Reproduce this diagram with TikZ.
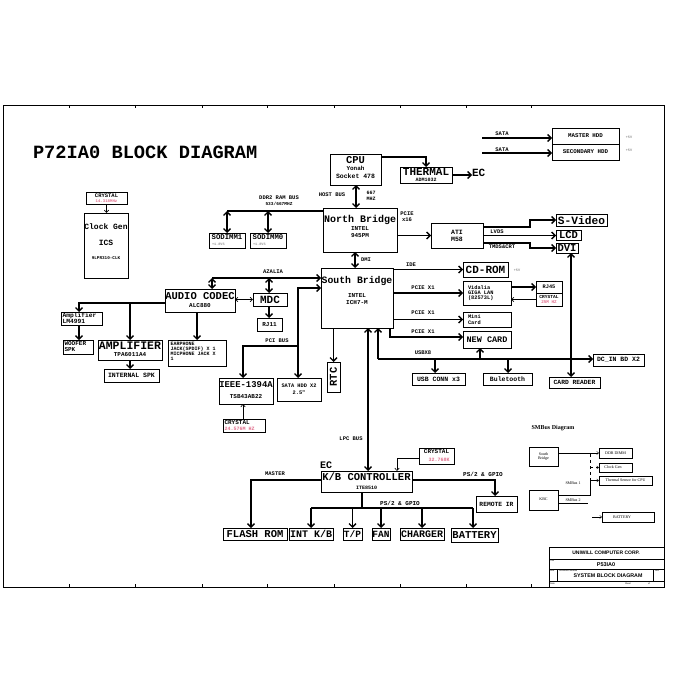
\documentclass[tikz,border=0pt]{standalone}
\usepackage{fontspec}
\setmainfont{Liberation Serif}
\setmonofont{Liberation Mono}
\newfontfamily\sansf{Liberation Sans}
\usetikzlibrary{arrows.meta}
\definecolor{pk}{RGB}{225,110,140}
\definecolor{gy}{RGB}{150,150,150}
\newcommand\mfs[1]{\ttfamily\bfseries\fontsize{#1}{#1}\selectfont}
\newcommand\sfs[1]{\sansf\bfseries\fontsize{#1}{#1}\selectfont}
\newcommand\rfs[1]{\rmfamily\fontsize{#1}{#1}\selectfont}
\tikzset{
  bx/.style={draw, line width=0.9pt, inner sep=0pt, outer sep=0pt},
  sbx/.style={draw, line width=0.4pt, inner sep=0pt, outer sep=0pt},
  tx/.style={inner sep=0pt, outer sep=0pt},
  busline/.style={line width=1.7pt},
  bus/.style={line width=1.7pt, -{Straight Barb[length=3.5pt,width=7pt,line width=1.3pt]}},
  dbus/.style={line width=1.7pt, {Straight Barb[length=3.5pt,width=7pt,line width=1.3pt]}-{Straight Barb[length=3.5pt,width=7pt,line width=1.3pt]}},
  thinar/.style={line width=0.6pt, -{Straight Barb[length=2.5pt,width=4.5pt]}},
  thindar/.style={line width=0.6pt, {Straight Barb[length=2.5pt,width=4.5pt]}-{Straight Barb[length=2.5pt,width=4.5pt]}},
  smar/.style={line width=0.4pt, -{Straight Barb[length=2pt,width=3pt]}},
}
\begin{document}
\begin{tikzpicture}[x=1pt,y=-1pt]
\useasboundingbox (0,0) rectangle (700,700);
\fill[white] (0,0) rectangle (700,700);
% frame
\draw[line width=0.7pt] (3,105) rectangle (664,587);
\foreach \x in {69,135,202,267,334,400,466,531}{
  \draw[line width=0.4pt] (\x,105) -- (\x,108);
  \draw[line width=0.4pt] (\x,587) -- (\x,584);}

\node[tx, font=\mfs{18.7}, anchor=west] (title) at (33,152) {P72IA0 BLOCK DIAGRAM};

% clock
\node[bx, minimum width=41, minimum height=12] (crys1) at (106.5,198) {};
\node[tx, font=\mfs{5.5}] (crys1a) at (106.5,195.3) {CRYSTAL};
\node[tx, font=\mfs{4}, text=pk] (crys1b) at (106.5,201) {14.318MHz};
\node[bx, minimum width=44, minimum height=65] (clk) at (106,245.5) {};
\node[tx, font=\mfs{8}] (clka) at (106,227) {Clock Gen};
\node[tx, font=\mfs{8}] (clkb) at (106,243) {ICS};
\node[tx, font=\mfs{4.3}] (clkc) at (106,258) {9LPR310-CLK};
\draw[thinar] (crys1.south) -- (crys1.south |- clk.north);

% CPU / thermal
\node[bx, minimum width=51, minimum height=31] (cpu) at (355.5,169.5) {};
\node[tx, font=\mfs{10.5}] (cpua) at (355.5,160) {CPU};
\node[tx, font=\mfs{6}] (cpub) at (355.5,168.5) {Yonah};
\node[tx, font=\mfs{6.5}] (cpuc) at (355.5,176.5) {Socket 478};
\node[bx, minimum width=52, minimum height=16] (therm) at (426,175) {};
\node[tx, font=\mfs{11}] (therma) at (426,172) {THERMAL};
\node[tx, font=\mfs{5}] (thermb) at (426,180) {ADM1032};
\node[tx, font=\mfs{11}, anchor=west] (ec1) at (472,173) {EC};
\coordinate (cpuR) at (381,157);
\draw[bus] (cpu.east |- cpuR) -| (therm.north);
\draw[bus] (therm.east) -- (therm.east -| ec1.west);

% North bridge
\node[bx, minimum width=74, minimum height=44] (nb) at (360,230) {};
\node[tx, font=\mfs{10}] (nba) at (360,219.5) {North Bridge};
\node[tx, font=\mfs{6}] (nbb) at (360,229) {INTEL};
\node[tx, font=\mfs{6}] (nbc) at (360,236) {945PM};
\coordinate (hostx) at (356,0);
\draw[dbus] (hostx |- cpu.south) -- (hostx |- nb.north);
\node[tx, font=\mfs{5.5}] (hb) at (332,195) {HOST BUS};
\node[tx, font=\mfs{5}] (hm1) at (371,192.5) {667};
\node[tx, font=\mfs{5}] (hm2) at (371,198.5) {MHZ};

% SODIMMs
\node[bx, minimum width=36, minimum height=15] (sodimm1) at (227,240.5) {};
\node[tx, font=\mfs{7.3}] (sd1a) at (227,237.5) {SODIMM1};
\node[tx, font=\mfs{3.5}, text=gy, anchor=west] (sd1b) at (212,244.5) {+1.8VS};
\node[bx, minimum width=36, minimum height=15] (sodimm0) at (268,240.5) {};
\node[tx, font=\mfs{7.3}] (sd0a) at (268,237.5) {SODIMM0};
\node[tx, font=\mfs{3.5}, text=gy, anchor=west] (sd0b) at (253,244.5) {+1.8VS};
\coordinate (ddrL) at (227,211);
\draw[busline] (nb.west |- ddrL) -- (ddrL);
\draw[dbus] (sodimm1.north |- ddrL) -- (sodimm1.north);
\draw[dbus] (sodimm0.north |- ddrL) -- (sodimm0.north);
\node[tx, font=\mfs{5.5}] (ddra) at (279,198) {DDR2 RAM BUS};
\node[tx, font=\mfs{4.5}] (ddrb) at (279,204) {533/667MHZ};

% ATI
\node[bx, minimum width=52, minimum height=25] (ati) at (457,235.5) {};
\node[tx, font=\mfs{6.5}] (atia) at (457,232) {ATI};
\node[tx, font=\mfs{6.5}] (atib) at (457,239) {M58};
\draw[bus] (nb.east |- ati) -- (ati.west);
\node[tx, font=\mfs{5.5}] (pcie16a) at (407,214) {PCIE};
\node[tx, font=\mfs{5.5}] (pcie16b) at (407,219.5) {x16};

\node[bx, minimum width=51, minimum height=12] (svideo) at (581.5,220) {};
\node[tx, font=\mfs{11.2}] (svt) at (581.5,220) {S-Video};
\node[bx, minimum width=25, minimum height=10] (lcd) at (568.5,235.5) {};
\node[tx, font=\mfs{10.5}] (lcdt) at (568.5,235.5) {LCD};
\node[bx, minimum width=22, minimum height=10] (dvi) at (567,248) {};
\node[tx, font=\mfs{10.5}] (dvit) at (567,248) {DVI};
\coordinate (atiS) at (483,227);
\coordinate (jog1) at (530,220);
\coordinate (atiT) at (483,243);
\draw[bus] (ati.east |- atiS) -- (jog1 |- atiS) -- (jog1) -- (svideo.west |- jog1);
\draw[bus] (ati.east |- lcd) -- (lcd.west);
\draw[bus] (ati.east |- atiT) -- (jog1 |- atiT) -- (jog1 |- dvi) -- (dvi.west);
\node[tx, font=\mfs{5.5}] (lvds) at (497,232) {LVDS};
\node[tx, font=\mfs{5.5}] (tmds) at (502,246.5) {TMDS\&CRT};

% HDDs
\node[bx, minimum width=67, minimum height=16] (mhdd) at (585.5,136) {};
\node[tx, font=\mfs{5.8}] (mhddt) at (585.5,135.5) {MASTER HDD};
\node[bx, minimum width=67, minimum height=16] (shdd) at (585.5,152) {};
\node[tx, font=\mfs{5.8}] (shddt) at (585.5,151.5) {SECONDARY HDD};
\coordinate (sata1) at (482,138);
\coordinate (sata2) at (482,153);
\draw[bus] (sata1) -- (mhdd.west |- sata1);
\draw[bus] (sata2) -- (shdd.west |- sata2);
\node[tx, font=\mfs{5.5}] (sl1) at (502,134) {SATA};
\node[tx, font=\mfs{5.5}] (sl2) at (502,149.5) {SATA};
\node[tx, font=\mfs{3.5}, text=gy] (v1) at (629,137) {+5V};
\node[tx, font=\mfs{3.5}, text=gy] (v2) at (629,150) {+5V};

% South bridge
\node[bx, minimum width=72, minimum height=60] (sb) at (357,298) {};
\node[tx, font=\mfs{9.8}] (sba) at (357,280.5) {South Bridge};
\node[tx, font=\mfs{6}] (sbb) at (357,296) {INTEL};
\node[tx, font=\mfs{6}] (sbc) at (357,303) {ICH7-M};
\coordinate (dmix) at (355,0);
\draw[dbus] (dmix |- nb.south) -- (dmix |- sb.north);
\node[tx, font=\mfs{5.5}] (dmi) at (366,259.5) {DMI};

% Audio
\node[bx, minimum width=70, minimum height=23] (codec) at (200,300.5) {};
\node[tx, font=\mfs{10.5}] (codeca) at (200,296) {AUDIO CODEC};
\node[tx, font=\mfs{6}] (codecb) at (200,306) {ALC880};
\node[bx, minimum width=34, minimum height=13] (mdc) at (270,299.5) {};
\node[tx, font=\mfs{11}] (mdct) at (270,299.5) {MDC};
\node[bx, minimum width=25, minimum height=13] (rj11) at (269.5,324.5) {};
\node[tx, font=\mfs{6}] (rj11t) at (269.5,324.5) {RJ11};
\coordinate (azL) at (212,278);
\coordinate (azM) at (269,278);
\draw[bus] (azL) -- (sb.west |- azL);
\draw[dbus] (azL) -- (azL |- codec.north);
\draw[dbus] (azM) -- (azM |- mdc.north);
\node[tx, font=\mfs{5.5}] (azt) at (273,271.5) {AZALIA};
\draw[thindar] (codec.east |- mdc) -- (mdc.west);
\draw[bus] (mdc.south -| azM) -- (azM |- rj11.north);

\node[bx, minimum width=41, minimum height=13] (amp1) at (81.5,318.5) {};
\node[tx, font=\mfs{6.3}, anchor=west, align=left] (amp1t) at (62.5,318.5) {Amplifier\\LM4991};
\node[bx, minimum width=30, minimum height=14] (woofer) at (78,347) {};
\node[tx, font=\mfs{6}, anchor=west, align=left] (woofert) at (64.5,347) {WOOFER\\SPK};
\node[bx, minimum width=64, minimum height=20] (amp2) at (130,350) {};
\node[tx, font=\mfs{11.5}] (amp2a) at (130,345.5) {AMPLIFIER};
\node[tx, font=\mfs{6}] (amp2b) at (130,355) {TPA6011A4};
\node[bx, minimum width=55, minimum height=13] (intspk) at (131.5,375.5) {};
\node[tx, font=\mfs{6.5}] (intspkt) at (131.5,375.5) {INTERNAL SPK};
\node[bx, minimum width=58, minimum height=26] (ear) at (197,353) {};
\node[tx, font=\mfs{5}, anchor=north west, align=left] (eart) at (170.5,342.5) {EARPHONE\\JACK(SPDIF) X 1\\MICPHONE JACK X\\1};
\coordinate (cdL) at (79,303);
\coordinate (cdM) at (130,303);
\coordinate (cdB) at (197,0);
\draw[bus] (codec.west |- cdL) -- (cdL) -- (cdL |- amp1.north);
\draw[bus] (cdM) -- (cdM |- amp2.north);
\draw[bus] (cdL |- amp1.south) -- (cdL |- woofer.north);
\draw[bus] (amp2.south) -- (amp2.south |- intspk.north);
\draw[bus] (cdB |- codec.south) -- (cdB |- ear.north);

% PCI bus
\node[bx, minimum width=54, minimum height=26] (ieee) at (246,391) {};
\node[tx, font=\mfs{8.9}] (ieeea) at (246,385) {IEEE-1394A};
\node[tx, font=\mfs{6}] (ieeeb) at (246,396.5) {TSB43AB22};
\node[bx, minimum width=42, minimum height=13] (crys2) at (244,425.5) {};
\node[tx, font=\mfs{6}, anchor=west] (crys2a) at (224.5,422.5) {CRYSTAL};
\node[tx, font=\mfs{5}, text=pk, anchor=west] (crys2b) at (224.5,429) {24.576M HZ};
\node[bx, minimum width=44, minimum height=23] (sata) at (299,389.5) {};
\node[tx, font=\mfs{5.3}] (sataa) at (299,386) {SATA HDD X2};
\node[tx, font=\mfs{5.3}] (satab) at (299,393) {2.5"};
\coordinate (pciT) at (298,288);
\coordinate (pciM) at (298,346);
\coordinate (pciL) at (243,346);
\draw[dbus] (sb.west |- pciT) -- (pciT) -- (pciT |- sata.north);
\draw[bus] (pciM) -- (pciL) -- (pciL |- ieee.north);
\draw[thinar] (pciL |- crys2.north) -- (pciL |- ieee.south);
\node[tx, font=\mfs{5.5}] (pcit) at (277,341) {PCI BUS};

% RTC
\node[bx, minimum width=13, minimum height=30] (rtc) at (333.5,377) {};
\node[tx, font=\mfs{10.5}, rotate=90] (rtct) at (333.5,377) {RTC};
\coordinate (rtcx) at (333.5,0);
\draw[bus] (rtcx |- sb.south) -- (rtc.north);

% SB right side
\node[bx, minimum width=45, minimum height=15] (cdrom) at (485.5,269.5) {};
\node[tx, font=\mfs{11}] (cdromt) at (485.5,269.5) {CD-ROM};
\node[tx, font=\mfs{3.5}, text=gy] (v3) at (517,270) {+5V};
\node[bx, minimum width=48, minimum height=24] (lan) at (487,293) {};
\node[tx, font=\mfs{5.3}, anchor=west, align=left] (lant) at (468,293) {Vidalia\\GIGA LAN\\(82573L)};
\node[bx, minimum width=26, minimum height=12] (rj45) at (549,287) {};
\node[tx, font=\mfs{5.3}] (rj45t) at (549,287) {RJ45};
\node[bx, minimum width=26, minimum height=13] (rjcrys) at (549,299.5) {};
\node[tx, font=\mfs{4.6}] (rjca) at (549,297) {CRYSTAL};
\node[tx, font=\mfs{4.3}, text=pk] (rjcb) at (549,302.5) {25M HZ};
\node[bx, minimum width=48, minimum height=15] (mini) at (487,319.5) {};
\node[tx, font=\mfs{5.3}, anchor=west, align=left] (minit) at (468,319.5) {Mini\\Card};
\node[bx, minimum width=48, minimum height=17] (newcard) at (487,339.5) {};
\node[tx, font=\mfs{8.5}] (newcardt) at (487,339.5) {NEW CARD};
\draw[bus] (sb.east |- cdrom) -- (cdrom.west);
\draw[bus] (sb.east |- lan) -- (lan.west);
\draw[bus] (lan.east |- rj45) -- (rj45.west);
\draw[thinar] (rjcrys.west) -- (lan.east |- rjcrys);
\draw[bus] (sb.east |- mini) -- (mini.west);
\coordinate (ncx) at (390,337);
\draw[bus] (ncx |- sb.south) -- (ncx) -- (newcard.west |- ncx);
\node[tx, font=\mfs{5.5}] (ide) at (411,265) {IDE};
\node[tx, font=\mfs{5.5}] (p1) at (423,287.5) {PCIE X1};
\node[tx, font=\mfs{5.5}] (p2) at (423,312.5) {PCIE X1};
\node[tx, font=\mfs{5.5}] (p3) at (423,331.5) {PCIE X1};

% USB
\node[bx, minimum width=53, minimum height=12] (usbconn) at (438.5,379) {};
\node[tx, font=\mfs{6.5}] (usbt) at (438.5,379) {USB CONN x3};
\node[bx, minimum width=49, minimum height=12] (bt) at (507.5,379) {};
\node[tx, font=\mfs{6.5}] (btt) at (507.5,379) {Buletooth};
\node[bx, minimum width=51, minimum height=12] (dcin) at (618.5,360) {};
\node[tx, font=\mfs{6.5}] (dcint) at (618.5,360) {DC\_IN BD X2};
\node[bx, minimum width=51, minimum height=11] (cardrd) at (574.5,382.5) {};
\node[tx, font=\mfs{6.3}] (cardrdt) at (574.5,382.5) {CARD READER};
\coordinate (usbC) at (378,359);
\coordinate (u1) at (435,359);
\coordinate (u2) at (480,359);
\coordinate (u3) at (508,359);
\draw[bus] (usbC) -- (dcin.west |- usbC);
\draw[bus] (usbC) -- (usbC |- sb.south);
\draw[bus] (u1) -- (u1 |- usbconn.north);
\draw[bus] (u2) -- (u2 |- newcard.south);
\draw[bus] (u3) -- (u3 |- bt.north);
\node[tx, font=\mfs{5.5}] (usbx) at (423,353) {USBX8};
\coordinate (crx) at (571,0);
\draw[dbus] (crx |- dvi.south) -- (crx |- cardrd.north);

% KBC
\node[bx, minimum width=91, minimum height=21] (kbc) at (366.5,481.5) {};
\node[tx, font=\mfs{10.5}] (kbca) at (366.5,477) {K/B CONTROLLER};
\node[tx, font=\mfs{5}] (kbcb) at (366.5,487.5) {ITE8510};
\node[tx, font=\mfs{10}, anchor=west] (ec2) at (320,465.5) {EC};
\coordinate (lpcx) at (368,0);
\draw[dbus] (lpcx |- sb.south) -- (lpcx |- kbc.north);
\node[tx, font=\mfs{5.5}] (lpc) at (351,439) {LPC BUS};
\node[bx, minimum width=35, minimum height=16] (crys3) at (436.5,456) {};
\node[tx, font=\mfs{6}] (crys3a) at (436.5,452) {CRYSTAL};
\node[tx, font=\mfs{5}, text=pk] (crys3b) at (439,460) {32.768K};
\coordinate (c3) at (397,458);
\draw[thinar] (crys3.west |- c3) -- (c3) -- (c3 |- kbc.north);

\node[bx, minimum width=64, minimum height=12] (flash) at (255,534) {};
\node[tx, font=\mfs{10.5}] (flasht) at (255,534) {FLASH ROM};
\node[bx, minimum width=44, minimum height=12] (intkb) at (311,534) {};
\node[tx, font=\mfs{10}] (intkbt) at (311,534) {INT K/B};
\node[bx, minimum width=19, minimum height=12] (tp) at (352.5,534) {};
\node[tx, font=\mfs{9.5}] (tpt) at (352.5,534) {T/P};
\node[bx, minimum width=18, minimum height=12] (fan) at (381,534) {};
\node[tx, font=\mfs{9.5}] (fant) at (381,534) {FAN};
\node[bx, minimum width=44, minimum height=12] (charger) at (422,534) {};
\node[tx, font=\mfs{10}] (chargert) at (422,534) {CHARGER};
\node[bx, minimum width=47, minimum height=14] (battery) at (474.5,535) {};
\node[tx, font=\mfs{10.5}] (batteryt) at (474.5,535) {BATTERY};
\node[bx, minimum width=41, minimum height=16] (remote) at (496.5,504) {};
\node[tx, font=\mfs{6.3}] (remotet) at (496.5,504) {REMOTE IR};

\coordinate (ms) at (251,480);
\coordinate (ps) at (495,480);
\coordinate (kb) at (362,508);
\coordinate (kbL) at (311,508);
\coordinate (kbR) at (473,508);
\draw[bus] (kbc.west |- ms) -- (ms) -- (ms |- flash.north);
\draw[bus] (kbc.east |- ps) -- (ps) -- (ps |- remote.north);
\draw[busline] (kb |- kbc.south) -- (kb);
\draw[busline] (kbL) -- (kbR);
\draw[bus] (kbL) -- (kbL |- intkb.north);
\draw[bus] (tp.north |- kb) -- (tp.north);
\draw[bus] (fan.north |- kb) -- (fan.north);
\draw[bus] (charger.north |- kb) -- (charger.north);
\draw[bus] (kbR) -- (kbR |- battery.north);
\node[tx, font=\mfs{5.5}] (mst) at (275,474) {MASTER};
\node[tx, font=\mfs{6}] (ps1) at (483,474) {PS/2 \& GPIO};
\node[tx, font=\mfs{6}] (ps2) at (400,503) {PS/2 \& GPIO};

% SMBus diagram
\node[tx, font=\rmfamily\bfseries\fontsize{6}{6}\selectfont] (smt) at (553,428) {SMBus Diagram};
\node[sbx, minimum width=29, minimum height=19] (smsb) at (543.5,456.5) {};
\node[tx, font=\rfs{4}, align=center] (smsbt) at (543.5,456.5) {South\\Bridge};
\node[sbx, minimum width=29, minimum height=20] (smkbc) at (543.5,500) {};
\node[tx, font=\rfs{4}] (smkbct) at (543.5,499) {KBC};
\node[sbx, minimum width=33, minimum height=10] (ddrd) at (615.5,453) {};
\node[tx, font=\rfs{4}] (ddrdt) at (615.5,453) {DDR DIMM};
\node[sbx, minimum width=33, minimum height=9] (clkg) at (615.5,467.5) {};
\node[tx, font=\rfs{4}] (clkgt) at (613,467.5) {Clock Gen};
\node[sbx, minimum width=53, minimum height=9] (therms) at (625.5,480.5) {};
\node[tx, font=\rfs{4}] (thermst) at (625.5,480.5) {Thermal Sensor for CPU};
\node[sbx, minimum width=52, minimum height=10] (smbat) at (628,517) {};
\node[tx, font=\rfs{4}] (smbatt) at (622,517) {BATTERY};
\coordinate (smv) at (590,495);
\coordinate (sm2) at (588,503);
\coordinate (sm3) at (592,517);
\draw[smar] (smsb.east |- ddrd) -- (ddrd.west);
\draw[line width=0.4pt] (smkbc.east |- smv) -- (smv) -- (smv |- therms);
\draw[smar] (smv |- therms) -- (therms.west);
\draw[line width=0.4pt, dashed] (smv |- therms) -- (smv |- ddrd);
\draw[smar, dashed] (smv |- clkg) -- (clkg.west);
\draw[line width=0.4pt] (smkbc.east |- sm2) -- (sm2);
\draw[smar] (sm3) -- (smbat.west);
\node[tx, font=\rfs{4}] (smb1) at (573,483) {SMBus 1};
\node[tx, font=\rfs{4}] (smb2) at (573,500) {SMBus 2};

% title block
\draw[line width=0.5pt] (549,547) rectangle (664,587);
\draw[line width=0.4pt] (549,559) -- (664,559);
\draw[line width=0.4pt] (549,569) -- (664,569);
\draw[line width=0.4pt] (549,581) -- (664,581);
\draw[line width=0.4pt] (557,569) -- (557,581);
\draw[line width=0.4pt] (653,569) -- (653,581);
\node[tx, font=\sfs{5}] (tb1) at (606,553) {UNIWILL COMPUTER CORP.};
\node[tx, font=\sfs{5.5}] (tb2) at (606,564.5) {P53IA0};
\node[tx, font=\sfs{5.3}] (tb3) at (608,575.5) {SYSTEM BLOCK DIAGRAM};
\node[tx, font=\sansf\fontsize{2.2}{2.2}\selectfont, anchor=west] (tb4) at (550,561) {Title};
\node[tx, font=\sansf\fontsize{2.2}{2.2}\selectfont, anchor=west] (tb5) at (550,571) {Size};
\node[tx, font=\sansf\fontsize{2.2}{2.2}\selectfont, anchor=west] (tb6) at (559,571) {Document Number};
\node[tx, font=\sansf\fontsize{2.2}{2.2}\selectfont, anchor=west] (tb7) at (655,571) {Rev};
\node[tx, font=\sansf\fontsize{2.2}{2.2}\selectfont, anchor=west] (tb8) at (550,583.5) {Date:};
\node[tx, font=\sansf\fontsize{2.2}{2.2}\selectfont, anchor=west] (tb9) at (625,583.5) {Sheet};
\node[tx, font=\sansf\fontsize{2.2}{2.2}\selectfont, anchor=west] (tb10) at (648,583.5) {of};
\end{tikzpicture}
\end{document}
